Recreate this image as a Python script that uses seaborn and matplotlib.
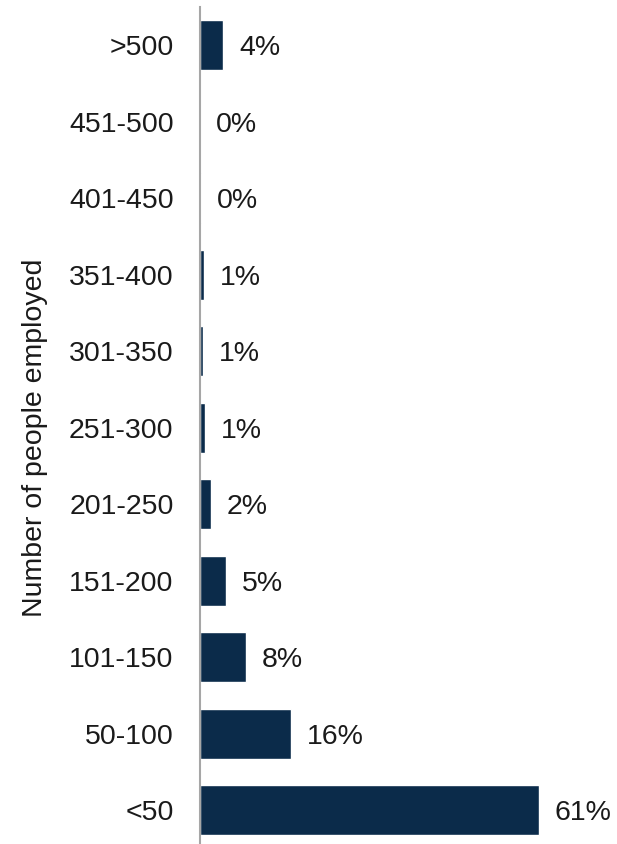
import pandas as pd
import seaborn as sns
import matplotlib.pyplot as plt

# values (percent of firms)
categories = ['>500', '451-500', '401-450', '351-400', '301-350', '251-300',
              '201-250', '151-200', '101-150', '50-100', '<50']
share = [4.2, 0.0, 0.15, 0.7, 0.6, 0.9, 2.0, 4.7, 8.3, 16.4, 61.0]
labels = ['4%', '0%', '0%', '1%', '1%', '1%', '2%', '5%', '8%', '16%', '61%']

df = pd.DataFrame({'size': categories, 'share': share})

sns.set_style('white')
plt.rcParams['font.family'] = ['Liberation Sans', 'DejaVu Sans']
fs = 20.5

fig = plt.figure(figsize=(6.17, 8.44), dpi=100)
ax = fig.add_axes([200 / 617, 0, 389 / 617, 837 / 844])

sns.barplot(x='share', y='size', data=df, orient='h', color='#0b2b4a',
            width=0.65, saturation=1, ax=ax)

for i, (v, lab) in enumerate(zip(share, labels)):
    ax.annotate(lab, xy=(v, i), xytext=(11.5, 0), textcoords='offset points',
                va='center_baseline', ha='left', fontsize=fs, color='#1a1a1a')

ax.set_xlim(0, 70)
ax.set_ylim(10.44, -0.5)
ax.set_xticks([])
ax.set_xlabel('')
ax.set_ylabel('Number of people employed', fontsize=fs, color='#1a1a1a')
ax.yaxis.set_label_coords(-0.39, 0.485)
ax.tick_params(axis='y', length=0, pad=19, labelsize=fs, labelcolor='#1a1a1a')

for s in ['top', 'right', 'bottom']:
    ax.spines[s].set_visible(False)
ax.spines['left'].set_color('#a6a6a6')
ax.spines['left'].set_linewidth(1.5)

fig.savefig('out.png', dpi=100)
